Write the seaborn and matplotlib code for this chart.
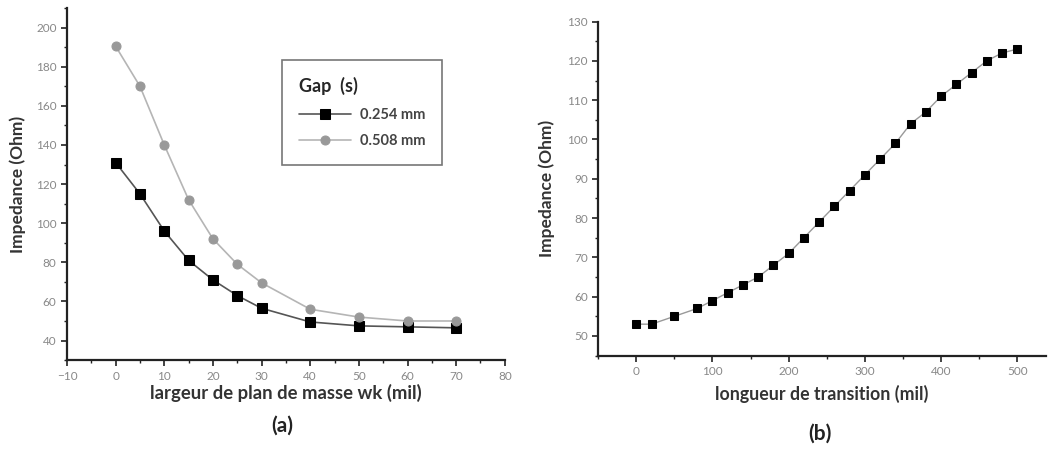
import numpy as np
import pandas as pd
import matplotlib
matplotlib.use("Agg")
import matplotlib.pyplot as plt
from matplotlib.ticker import MultipleLocator
import seaborn as sns

# --- data ---
wk = [0, 5, 10, 15, 20, 25, 30, 40, 50, 60, 70]
z_gap_0254 = [131, 115, 96, 81, 71, 63, 56.5, 49.5, 47.5, 47, 46.5]
z_gap_0508 = [190.5, 170, 140, 112, 92, 79, 69.5, 56, 52, 50, 50]

longueur = [0, 20, 50, 80, 100, 120, 140, 160, 180, 200, 220, 240, 260,
            280, 300, 320, 340, 360, 380, 400, 420, 440, 460, 480, 500]
z_transition = [53, 53, 55, 57, 59, 61, 63, 65, 68, 71, 75, 79, 83,
                87, 91, 95, 99, 104, 107, 111, 114, 117, 120, 122, 123]

df_a = pd.DataFrame({"wk": wk, "s0254": z_gap_0254, "s0508": z_gap_0508})
df_b = pd.DataFrame({"L": longueur, "Z": z_transition})

sns.set_style("white")
plt.rcParams["font.family"] = ["Lato", "DejaVu Sans"]

fig = plt.figure(figsize=(10.55, 4.49), dpi=100)
ax1 = fig.add_axes([0.0635, 0.198, 0.415, 0.784])
ax2 = fig.add_axes([0.567, 0.208, 0.424, 0.744])

# --- (a) ---
sns.lineplot(data=df_a, x="wk", y="s0254", ax=ax1, color="#555555", lw=1.2,
             marker="s", markersize=6.5, markerfacecolor="black",
             markeredgecolor="black", label="0.254 mm")
sns.lineplot(data=df_a, x="wk", y="s0508", ax=ax1, color="#b5b5b5", lw=1.2,
             marker="o", markersize=6.5, markerfacecolor="#999999",
             markeredgecolor="#999999", label="0.508 mm")
ax1.set_xlim(-10, 80)
ax1.set_ylim(30, 210)
ax1.xaxis.set_major_locator(MultipleLocator(10))
ax1.xaxis.set_minor_locator(MultipleLocator(5))
ax1.yaxis.set_major_locator(MultipleLocator(20))
ax1.yaxis.set_minor_locator(MultipleLocator(10))
ax1.set_yticks(np.arange(40, 201, 20))
ax1.set_xlabel("largeur de plan de masse wk (mil)", fontsize=13.3,
               fontweight="bold", color="#333333", labelpad=2)
ax1.set_ylabel("Impedance (Ohm)", fontsize=12.5, fontweight="bold",
               color="#333333", labelpad=7)
leg = ax1.legend(title="Gap  (s)", loc="upper left",
                 bbox_to_anchor=(0.474, 0.872), frameon=True, fancybox=False,
                 edgecolor="#555555", fontsize=10.5, handlelength=3.6,
                 borderpad=1.15, labelspacing=0.85, handletextpad=0.6)
leg.get_frame().set_linewidth(1.2)
leg.get_title().set_fontweight("bold")
leg.get_title().set_fontsize(13)
leg._legend_box.align = "left"
for t in leg.get_texts():
    t.set_fontweight("bold")
    t.set_color("#444444")

# --- (b) ---
sns.lineplot(data=df_b, x="L", y="Z", ax=ax2, color="#999999", lw=1.0,
             marker="s", markersize=6, markerfacecolor="black",
             markeredgecolor="black")
ax2.set_xlim(-50, 537)
ax2.set_ylim(45, 130)
ax2.xaxis.set_major_locator(MultipleLocator(100))
ax2.xaxis.set_minor_locator(MultipleLocator(50))
ax2.yaxis.set_major_locator(MultipleLocator(10))
ax2.yaxis.set_minor_locator(MultipleLocator(5))
ax2.set_yticks(np.arange(50, 131, 10))
ax2.set_xlabel("longueur de transition (mil)", fontsize=12.8,
               fontweight="bold", color="#333333", labelpad=6)
ax2.set_ylabel("Impedance (Ohm)", fontsize=12.5, fontweight="bold",
               color="#333333", labelpad=9)

for ax in (ax1, ax2):
    sns.despine(ax=ax)
    for side in ("left", "bottom"):
        ax.spines[side].set_color("#222222")
        ax.spines[side].set_linewidth(1.6)
    ax.tick_params(which="major", direction="out", length=4, width=1.2,
                   color="#222222", labelsize=8.5, labelcolor="#888888",
                   left=True, bottom=True)
    ax.tick_params(which="minor", direction="out", length=2.5, width=1.0,
                   color="#222222", left=True, bottom=True)

fig.text(0.268, 0.053, "(a)", ha="center", va="center", fontsize=15,
         fontweight="bold", color="#222222")
fig.text(0.777, 0.035, "(b)", ha="center", va="center", fontsize=15,
         fontweight="bold", color="#222222")

fig.savefig("out.png", dpi=100)
